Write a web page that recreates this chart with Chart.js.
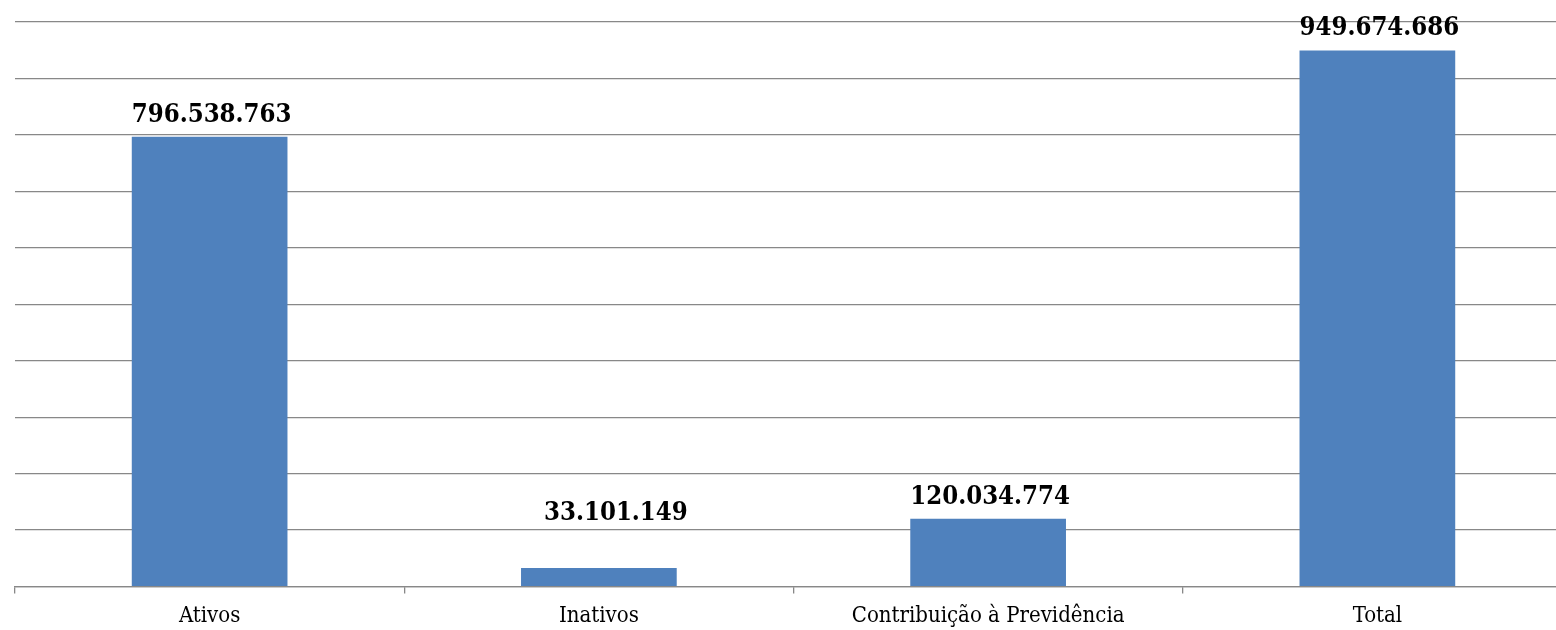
<!DOCTYPE html>
<html>
<head>
<meta charset="utf-8">
<script src="https://cdn.jsdelivr.net/npm/chart.js@4/dist/chart.umd.min.js"></script>
<style>
  html, body { margin: 0; padding: 0; background: #fff; overflow: hidden; }
  #wrap { width: 1580px; height: 630px; }
</style>
</head>
<body>
<div id="wrap"><canvas id="chart" width="1580" height="630"></canvas></div>
<script>
// data
const categories = ['Ativos', 'Inativos', 'Contribuição à Previdência', 'Total'];
const values = [796538763, 33101149, 120034774, 949674686];
const yMax = 1000000000;
const yStep = 100000000;

const serif = "'DejaVu Serif Condensed', 'DejaVu Serif', serif";

// 796538763 -> "796.538.763"
function fmt(v) {
    return String(v).replace(/\B(?=(\d{3})+(?!\d))/g, '.');
}

// draws the value above each bar (the Inativos label sits a bit higher and to the right in the original)
const valueLabels = {
    id: 'valueLabels',
    afterDatasetsDraw(chart, args, opts) {
        const ctx = chart.ctx;
        const meta = chart.getDatasetMeta(0);
        ctx.save();
        ctx.font = 'bold 25.5px ' + serif;
        ctx.fillStyle = '#000';
        ctx.textAlign = 'center';
        ctx.textBaseline = 'alphabetic';
        meta.data.forEach((bar, i) => {
            const off = opts.shift[i] || [0, 0];
            ctx.fillText(fmt(values[i]), bar.x + 2 + off[0], bar.y - 15 - off[1]);
        });
        ctx.restore();
    }
};

new Chart(document.getElementById('chart'), {
    type: 'bar',
    data: {
        labels: categories,
        datasets: [{
            data: values,
            backgroundColor: '#4F81BD',
            borderWidth: 0,
            categoryPercentage: 1.0,
            barPercentage: 0.4
        }]
    },
    options: {
        responsive: false,
        animation: false,
        layout: { padding: { left: 15, top: 22, right: 8, bottom: -8 } },
        plugins: {
            legend: { display: false },
            tooltip: { enabled: false },
            valueLabels: { shift: [[0, 0], [15, 33], [0, 0], [0, 0]] }
        },
        scales: {
            y: {
                min: 0,
                max: yMax,
                ticks: { display: false, stepSize: yStep },
                grid: { color: '#888888', lineWidth: 1.3, drawTicks: false },
                border: { display: false }
            },
            x: {
                ticks: {
                    color: '#000',
                    padding: 9,
                    font: { family: serif, size: 22 }
                },
                grid: {
                    drawOnChartArea: false,
                    tickLength: 7,
                    color: '#888888',
                    lineWidth: 1.3
                },
                border: { color: '#888888', width: 1.3 }
            }
        }
    },
    plugins: [valueLabels]
});
</script>
</body>
</html>
